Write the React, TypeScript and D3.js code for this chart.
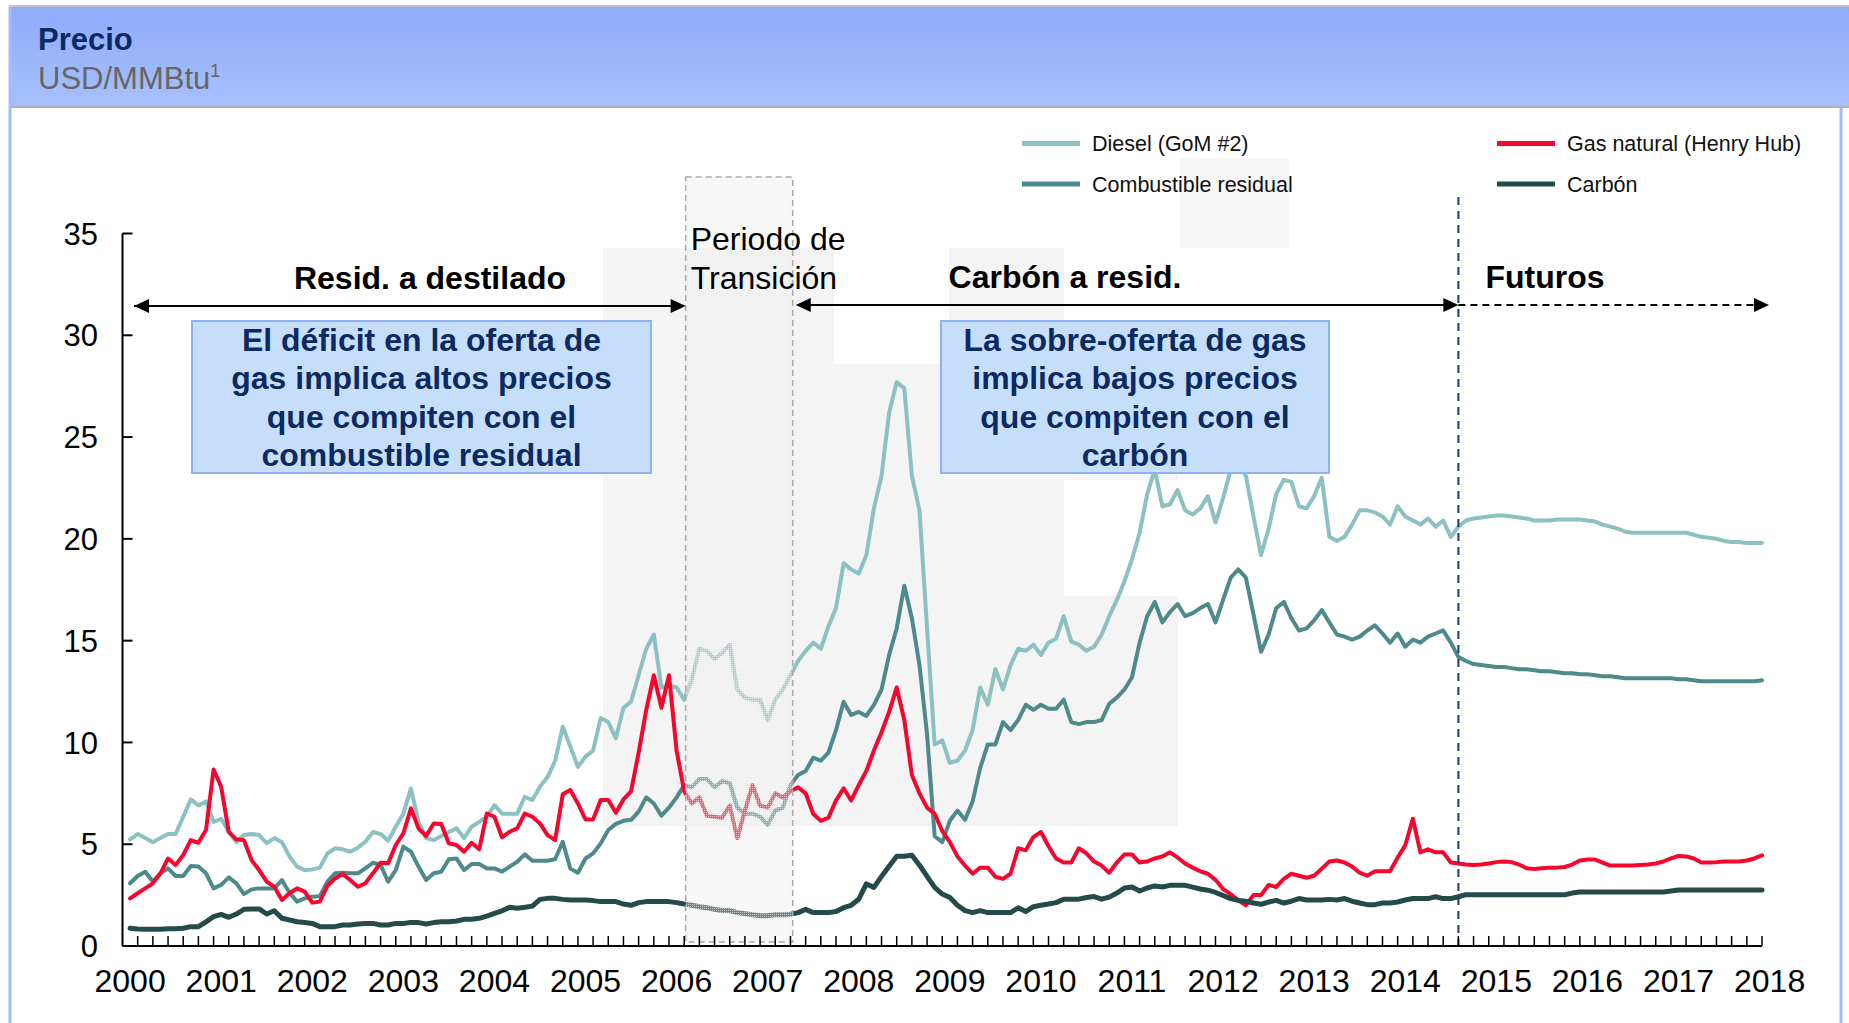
import React from 'react';
import * as d3 from 'd3';

// ---------- data (monthly, Jan 2000 .. Dec 2017; from Sep 2014 = futures) ----------
const years = d3.range(2000, 2019).map(String);
const yTicks = [0, 5, 10, 15, 20, 25, 30, 35];

const diesel = [
  5.24, 5.5, 5.3, 5.1, 5.3, 5.5, 5.5, 6.35, 7.2, 6.9, 7.1, 6.1,
  6.25, 5.6, 5.1, 5.45, 5.5, 5.45, 5.05, 5.3, 5.1, 4.4, 3.9, 3.73,
  3.76, 3.85, 4.55, 4.8, 4.75, 4.63, 4.83, 5.12, 5.6, 5.5, 5.17, 5.86,
  6.5, 7.74, 6.1, 5.3, 5.2, 5.4, 5.6, 5.78, 5.3, 5.86, 6.1, 6.35,
  6.92, 6.5, 6.5, 6.5, 7.33, 7.17, 7.82, 8.3, 9.1, 10.77, 9.8, 8.8,
  9.3, 9.6, 11.2, 11.0, 10.2, 11.7, 12.0, 13.3, 14.6, 15.3, 12.7, 12.8,
  12.7, 12.1, 13.1, 14.6, 14.5, 14.1, 14.4, 14.8, 12.6, 12.2, 12.1, 12.1,
  11.1, 12.1, 12.6, 13.3, 14.0, 14.5, 14.9, 14.6, 15.7, 16.6, 18.8, 18.5,
  18.3, 19.2, 21.5, 23.1, 26.2, 27.7, 27.4, 23.1, 21.4, 15.6, 9.9, 10.1,
  9.0, 9.1, 9.6, 10.6, 12.7, 11.85, 13.6, 12.6, 13.8, 14.6, 14.5, 14.8,
  14.3, 14.9, 15.1, 16.2, 14.95, 14.8, 14.5, 14.7, 15.3, 16.2, 17.0, 17.9,
  19.0, 20.3, 22.2, 23.4, 21.6, 21.7, 22.4, 21.4, 21.2, 21.5, 22.1, 20.8,
  22.0, 23.4, 23.6, 23.1, 21.1, 19.2, 20.5, 22.2, 22.9, 22.8, 21.6, 21.5,
  22.1, 23.0, 20.1, 19.9, 20.1, 20.7, 21.4, 21.4, 21.3, 21.1, 20.7, 21.6,
  21.1, 20.9, 20.7, 21.0, 20.6, 20.9, 20.1, 20.6,
  20.9, 21.0, 21.05, 21.1, 21.15, 21.15, 21.1, 21.05, 21.0, 20.9, 20.9, 20.9,
  20.95, 20.95, 20.95, 20.95, 20.9, 20.85, 20.7, 20.6, 20.5, 20.35, 20.3, 20.3,
  20.3, 20.3, 20.3, 20.3, 20.3, 20.3, 20.2, 20.1, 20.05, 20.0, 19.9, 19.85,
  19.85, 19.8, 19.8, 19.8,
];

const residual = [
  3.08, 3.44, 3.65, 3.16, 3.57, 3.81, 3.44, 3.44, 3.93, 3.9, 3.57, 2.83,
  3.0, 3.37, 3.08, 2.55, 2.78, 2.83, 2.83, 2.83, 3.24, 2.62, 2.18, 2.34,
  2.42, 2.45, 3.16, 3.57, 3.6, 3.57, 3.57, 3.81, 4.09, 3.98, 3.16, 3.73,
  4.88, 4.63, 3.9, 3.24, 3.57, 3.65, 4.26, 4.3, 3.73, 4.03, 4.03, 3.81,
  3.81, 3.65, 3.9, 4.14, 4.5, 4.19, 4.19, 4.19, 4.26, 5.12, 3.81, 3.6,
  4.3, 4.55, 5.04, 5.7, 6.0, 6.15, 6.2, 6.6, 7.3, 7.0, 6.4, 6.8,
  7.3, 7.9, 7.8, 8.2, 8.2, 7.8, 8.1, 8.0, 6.8, 6.5, 6.5, 6.35,
  5.95, 6.65, 6.8, 7.9, 8.4, 8.6, 9.25, 9.1, 9.5, 10.6, 12.0, 11.35,
  11.5, 11.3, 11.85, 12.6, 14.3, 15.6, 17.7, 16.1, 13.8, 10.4, 5.4, 5.1,
  6.15, 6.65, 6.2, 7.1, 8.75, 9.9, 9.9, 11.0, 10.6, 11.1, 11.85, 11.6,
  11.85, 11.65, 11.65, 12.1, 11.0, 10.9, 11.0, 11.0, 11.1, 11.9, 12.2, 12.6,
  13.2, 14.9, 16.2, 16.9, 15.9, 16.4, 16.8, 16.2, 16.35, 16.6, 16.8, 15.9,
  17.0, 18.1, 18.5, 18.1, 16.3, 14.45, 15.3, 16.6, 16.9, 16.1, 15.5, 15.6,
  16.0, 16.5, 15.9, 15.3, 15.2, 15.05, 15.2, 15.5, 15.75, 15.35, 14.9, 15.35,
  14.7, 15.05, 14.9, 15.2, 15.35, 15.5, 14.9, 14.2,
  14.0, 13.85, 13.8, 13.75, 13.7, 13.7, 13.65, 13.6, 13.6, 13.55, 13.5, 13.5,
  13.45, 13.4, 13.4, 13.35, 13.35, 13.3, 13.25, 13.25, 13.2, 13.15, 13.15, 13.15,
  13.15, 13.15, 13.15, 13.15, 13.1, 13.1, 13.05, 13.0, 13.0, 13.0, 13.0, 13.0,
  13.0, 13.0, 13.0, 13.05,
];

const gas = [
  2.34, 2.59, 2.83, 3.08, 3.57, 4.3, 3.98, 4.47, 5.2, 5.07, 5.7, 8.67,
  7.82, 5.61, 5.24, 5.2, 4.22, 3.73, 3.16, 2.91, 2.26, 2.59, 2.83, 2.67,
  2.13, 2.18, 2.95, 3.32, 3.54, 3.24, 2.91, 3.08, 3.57, 4.09, 4.06, 4.96,
  5.53, 6.76, 5.78, 5.4, 6.02, 5.99, 5.04, 4.96, 4.63, 5.07, 4.75, 6.51,
  6.35, 5.34, 5.61, 5.78, 6.51, 6.35, 6.02, 5.45, 5.2, 7.45, 7.66, 7.0,
  6.22, 6.22, 7.17, 7.17, 6.55, 7.2, 7.6, 9.5, 11.6, 13.3, 11.7, 13.3,
  9.6, 7.6, 7.0, 7.3, 6.4, 6.35, 6.3, 6.9, 5.3, 6.65, 7.9, 6.9,
  6.8, 7.5, 7.3, 7.6, 7.8, 7.5, 6.5, 6.15, 6.3, 7.15, 7.75, 7.15,
  7.9, 8.6, 9.6, 10.5, 11.5, 12.7, 11.1, 8.4, 7.5, 6.8, 6.5, 5.65,
  5.1, 4.4, 3.95, 3.55, 3.85, 3.85, 3.4, 3.3, 3.55, 4.8, 4.7, 5.35,
  5.6, 4.9, 4.3, 4.1, 4.1, 4.8, 4.55, 4.15, 3.95, 3.6, 4.1, 4.5,
  4.5, 4.1, 4.15, 4.3, 4.4, 4.6, 4.35, 4.05, 3.85, 3.67, 3.55, 3.25,
  2.8, 2.55, 2.25, 2.0, 2.5, 2.5, 3.0, 2.9, 3.3, 3.55, 3.45, 3.35,
  3.45, 3.8, 4.15, 4.2, 4.1, 3.9, 3.6, 3.45, 3.67, 3.67, 3.67, 4.35,
  4.95, 6.25, 4.6, 4.75, 4.6, 4.6, 4.1, 4.05,
  4.0, 3.98, 4.0, 4.05, 4.12, 4.15, 4.12, 4.0, 3.82, 3.78, 3.82, 3.85,
  3.85, 3.88, 4.0, 4.2, 4.25, 4.25, 4.1, 3.95, 3.95, 3.95, 3.95, 3.98,
  4.0, 4.05, 4.15, 4.3, 4.42, 4.4, 4.3, 4.1, 4.1, 4.12, 4.15, 4.15,
  4.15, 4.2, 4.3, 4.45,
];

const coal = [
  0.87, 0.83, 0.82, 0.82, 0.82, 0.85, 0.85, 0.87, 0.95, 0.95, 1.19, 1.44,
  1.55, 1.41, 1.57, 1.8, 1.82, 1.82, 1.57, 1.73, 1.36, 1.28, 1.19, 1.15,
  1.11, 0.95, 0.95, 0.95, 1.03, 1.03, 1.08, 1.11, 1.11, 1.03, 1.03, 1.11,
  1.11, 1.16, 1.15, 1.08, 1.15, 1.19, 1.19, 1.23, 1.31, 1.31, 1.36, 1.47,
  1.6, 1.73, 1.9, 1.85, 1.9, 1.96, 2.29, 2.34, 2.34, 2.29, 2.26, 2.26,
  2.26, 2.23, 2.18, 2.18, 2.18, 2.06, 2.0, 2.13, 2.18, 2.18, 2.18, 2.18,
  2.13, 2.06, 2.0, 1.93, 1.88, 1.8, 1.74, 1.74, 1.64, 1.59, 1.54, 1.49,
  1.49, 1.54, 1.54, 1.56, 1.64, 1.8, 1.64, 1.64, 1.64, 1.69, 1.88, 2.0,
  2.3, 3.05, 2.88, 3.42, 3.92, 4.41, 4.41, 4.46, 3.97, 3.42, 2.88, 2.55,
  2.38, 2.0, 1.74, 1.64, 1.74, 1.64, 1.64, 1.64, 1.64, 1.88, 1.69, 1.93,
  2.0, 2.06, 2.13, 2.3, 2.3, 2.3, 2.38, 2.43, 2.3, 2.4, 2.6, 2.85,
  2.9, 2.7, 2.85, 2.95, 2.9, 2.98, 2.98, 2.98, 2.89, 2.8, 2.74, 2.63,
  2.48, 2.33, 2.24, 2.2, 2.11, 2.05, 2.16, 2.24, 2.11, 2.2, 2.33, 2.26,
  2.26, 2.26, 2.29, 2.26, 2.33, 2.2, 2.11, 2.03, 2.03, 2.11, 2.11, 2.16,
  2.26, 2.33, 2.33, 2.33, 2.42, 2.33, 2.33, 2.42,
  2.52, 2.52, 2.52, 2.52, 2.52, 2.52, 2.52, 2.52, 2.52, 2.52, 2.52, 2.52,
  2.52, 2.52, 2.6, 2.65, 2.65, 2.65, 2.65, 2.65, 2.65, 2.65, 2.65, 2.65,
  2.65, 2.65, 2.65, 2.7, 2.75, 2.75, 2.75, 2.75, 2.75, 2.75, 2.75, 2.75,
  2.75, 2.75, 2.75, 2.75,
];

const seriesNames = ['Diesel (GoM #2)', 'Combustible residual', 'Gas natural (Henry Hub)', 'Carbón'];
const seriesValues = [diesel, residual, gas, coal];

const box1Lines = ['El déficit en la oferta de', 'gas implica altos precios', 'que compiten con el', 'combustible residual'];
const box2Lines = ['La sobre-oferta de gas', 'implica bajos precios', 'que compiten con el', 'carbón'];

// month offsets (0 = start of Jan 2000) for annotation markers
const transitionStart = 74.2;
const transitionEnd = 88.3;
const futuresStart = 176;

// ---------- styles ----------
const FF = "'Liberation Sans', Arial, Helvetica, sans-serif";
const COLORS = ['#8cc0c1', '#4e8a8b', '#f5062f', '#244a4a'];
const WIDTHS = [4, 4, 4, 5];
const NAVY = '#0c2a62';

export default function App() {
  const W = 1849;
  const H = 1023;
  const x = d3.scaleLinear().domain([0, 216]).range([122.5, 1762]);
  const y = d3.scaleLinear().domain([0, 35]).range([946, 233.5]);
  const line = d3
    .line<number>()
    .x((_, i) => x(i + 1))
    .y((v) => y(v));

  const xTicks = d3.range(2, 217, 2);
  const arrowY = 306;
  const tx0 = x(transitionStart);
  const tx1 = x(transitionEnd);
  const fx = x(futuresStart);

  const head = (tipX: number, yy: number, dir: number) =>
    `M${tipX},${yy} L${tipX - dir * 15},${yy - 7} L${tipX - dir * 15},${yy + 7} Z`;

  const legendPos = [
    { lx: 1022, ly: 143.5 },
    { lx: 1022, ly: 184 },
    { lx: 1497, ly: 143.5 },
    { lx: 1497, ly: 184 },
  ];

  return (
    <svg
      width={W}
      height={H}
      style={{ position: 'absolute', left: 0, top: 0, background: '#fff' }}
      fontFamily={FF}
    >
      <defs>
        <linearGradient id="hdr" x1="0" y1="0" x2="0" y2="1">
          <stop offset="0" stopColor="#8eabfb" />
          <stop offset="1" stopColor="#a8c0fd" />
        </linearGradient>
        <pattern id="stipple" width="2" height="2" patternUnits="userSpaceOnUse">
          <rect width="2" height="2" fill="#e8e8e8" fillOpacity={0.38} />
          <rect width="1" height="1" fill="#ffffff" fillOpacity={0.55} />
        </pattern>
      </defs>
      <rect x={0} y={0} width={W} height={H} fill="#fff" />

      {/* header */}
      <rect x={9} y={6} width={W - 9} height={101} fill="url(#hdr)" />
      <line x1={9} x2={W} y1={6} y2={6} stroke="#c4c4c4" strokeWidth={2} />
      <line x1={9} x2={W} y1={107} y2={107} stroke="#b0b0b0" strokeWidth={2} />
      <line x1={10} x2={10} y1={6} y2={H} stroke="#a6bcf8" strokeWidth={3} />
      <line x1={1841} x2={1841} y1={108} y2={H} stroke="#a6bcf8" strokeWidth={3} />
      <text x={38} y={50} fontSize={31} fontWeight="bold" fill={NAVY}>Precio</text>
      <text x={38} y={89} fontSize={31} fill="#666">
        USD/MMBtu<tspan fontSize={18} dy={-12}>1</tspan>
      </text>

      {/* light grey background blocks */}
      <g fill="#f4f4f4">
        <rect x={603} y={248} width={231} height={578} />
        <rect x={834} y={364} width={115} height={462} />
        <rect x={949} y={248} width={115} height={578} />
        <rect x={1064} y={596} width={114} height={230} />
        <rect x={1064} y={400} width={114} height={80} />
        <rect x={1180} y={158} width={109} height={90} fill="#f7f7f7" />
      </g>

      {/* series */}
      {seriesValues.map((vals, k) => (
        <path
          key={k}
          d={line(vals) || ''}
          fill="none"
          stroke={COLORS[k]}
          strokeWidth={WIDTHS[k]}
          strokeLinejoin="round"
          strokeLinecap="round"
        />
      ))}

      {/* transition period overlay */}
      <rect x={tx0} y={177} width={tx1 - tx0} height={765} fill="url(#stipple)" />
      <rect
        x={tx0}
        y={177}
        width={tx1 - tx0}
        height={765}
        fill="none"
        stroke="#aaaaaa"
        strokeWidth={1.5}
        strokeDasharray="6 4"
      />
      <text x={tx0 + 5} y={250} fontSize={32} fill="#000">Periodo de</text>
      <text x={tx0 + 5} y={289} fontSize={32} fill="#000">Transición</text>

      {/* futures divider */}
      <line x1={fx} x2={fx} y1={197} y2={946} stroke="#1f3a70" strokeWidth={2} strokeDasharray="8 6" />

      {/* axes */}
      <line x1={x(0)} x2={x(0)} y1={y(35)} y2={y(0)} stroke="#000" strokeWidth={2} />
      <line x1={x(0)} x2={x(216)} y1={y(0)} y2={y(0)} stroke="#000" strokeWidth={2} />
      {yTicks.map((t) => (
        <g key={t}>
          <line x1={x(0)} x2={x(0) + 10} y1={y(t)} y2={y(t)} stroke="#000" strokeWidth={2} />
          <text x={98} y={y(t)} dy="0.36em" textAnchor="end" fontSize={31} fill="#000">
            {t}
          </text>
        </g>
      ))}
      {xTicks.map((m) => (
        <line key={m} x1={x(m)} x2={x(m)} y1={y(0)} y2={y(0) - 10} stroke="#000" strokeWidth={1.5} />
      ))}
      {years.map((yr, k) => (
        <text key={yr} x={x(k * 12 + 1)} y={992} textAnchor="middle" fontSize={32} fill="#000">
          {yr}
        </text>
      ))}

      {/* period arrows */}
      <g stroke="#000" strokeWidth={2}>
        <line x1={134} x2={tx0 - 10} y1={arrowY} y2={arrowY} />
        <line x1={tx1 + 10} x2={fx - 10} y1={arrowY - 1} y2={arrowY - 1} />
        <line x1={fx} x2={1760} y1={arrowY - 1} y2={arrowY - 1} strokeDasharray="7 5" />
      </g>
      <g fill="#000">
        <path d={head(134, arrowY, -1)} />
        <path d={head(tx0, arrowY, 1)} />
        <path d={head(tx1 + 3, arrowY - 1, -1)} />
        <path d={head(fx, arrowY - 1, 1)} />
        <path d={head(1769, arrowY - 1, 1)} />
      </g>
      <text x={430} y={289} textAnchor="middle" fontSize={32} fontWeight="bold">Resid. a destilado</text>
      <text x={1065} y={288} textAnchor="middle" fontSize={32} fontWeight="bold">Carbón a resid.</text>
      <text x={1545} y={288} textAnchor="middle" fontSize={32} fontWeight="bold">Futuros</text>

      {/* explanation boxes */}
      <rect x={192} y={321} width={459} height={152} fill="#c6defa" stroke="#8fb2f6" strokeWidth={2} />
      {box1Lines.map((t, k) => (
        <text key={k} x={421.5} y={351 + k * 38.3} textAnchor="middle" fontSize={32} fontWeight="bold" fill={NAVY}>
          {t}
        </text>
      ))}
      <rect x={941} y={321} width={388} height={152} fill="#c6defa" stroke="#8fb2f6" strokeWidth={2} />
      {box2Lines.map((t, k) => (
        <text key={k} x={1135} y={351 + k * 38.3} textAnchor="middle" fontSize={32} fontWeight="bold" fill={NAVY}>
          {t}
        </text>
      ))}

      {/* legend */}
      {seriesNames.map((name, k) => (
        <g key={name}>
          <line
            x1={legendPos[k].lx}
            x2={legendPos[k].lx + 58}
            y1={legendPos[k].ly}
            y2={legendPos[k].ly}
            stroke={COLORS[k]}
            strokeWidth={5}
          />
          <text x={legendPos[k].lx + 70} y={legendPos[k].ly} dy="0.36em" fontSize={21.5} fill="#111">
            {name}
          </text>
        </g>
      ))}
    </svg>
  );
}
